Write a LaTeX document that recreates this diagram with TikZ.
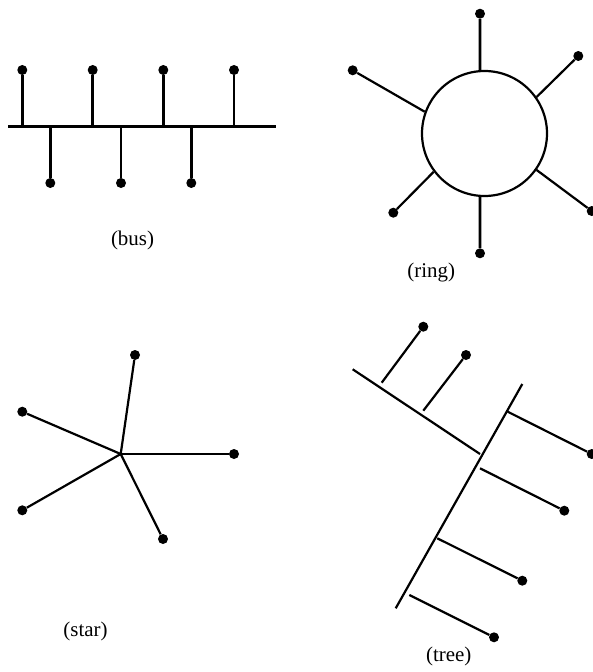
\documentclass[tikz,border=0pt]{standalone}
\usepackage{fontspec}
\setmainfont{Liberation Serif}
\tikzset{
  dot/.style={circle,fill=black,inner sep=0pt,minimum size=10bp},
  link/.style={line width=2.2bp},
  buslink/.style={line width=2.8bp},
  caption/.style={font=\fontsize{21}{25}\selectfont}
}

\begin{document}
\begin{tikzpicture}[yscale=-1,x=1bp,y=1bp]

  \useasboundingbox (0,0) rectangle (593,672);

  % ======================================================================
  % Bus: eine Leitung, Stationen abwechselnd oben und unten
  % ======================================================================
  \coordinate (busL) at (8.3,126.7);
  \coordinate (busR) at (276,126.7);
  \draw[buslink] (busL) -- (busR);

  \foreach \x [count=\i] in {22.3,92.7,163.3,234} {
    \node[dot] (busU\i) at (\x,70) {};
    \coordinate (busTU\i) at (\x,126.7);
    \draw[buslink] (busU\i) -- (busTU\i);
  }
  \foreach \x [count=\i] in {50.3,121,191.3} {
    \node[dot] (busD\i) at (\x,183) {};
    \coordinate (busTD\i) at (\x,126.7);
    \draw[buslink] (busTD\i) -- (busD\i);
  }

  \node[caption] (lblbus) at (132.5,240) {(bus)};

  % ======================================================================
  % Ring: Kreis mit sechs Stichleitungen
  % ======================================================================
  \node[circle,draw,line width=2.2bp,inner sep=0pt,minimum size=125bp] (ring) at (484.5,133.5) {};

  \node[dot] (ringN)  at (480,13.7) {};
  \node[dot] (ringNE) at (578.3,56) {};
  \node[dot] (ringW)  at (352.7,70.3) {};
  \node[dot] (ringSW) at (393.3,212.7) {};
  \node[dot] (ringS)  at (480,253.3) {};
  \node[dot] (ringSE) at (591.7,211) {};

  \draw[buslink] (ringN) -- (ring.94);
  \draw[link] (ringNE) -- (ring.35);
  \draw[link] (ringW) -- (ring.160.6);
  \draw[link] (ringSW) -- (ring.217.9);
  \draw[buslink] (ringS) -- (ring.266);
  \draw[link] (ringSE) -- (ring.325.8);

  \node[caption] (lblring) at (431.3,272) {(ring)};

  % ======================================================================
  % Stern: fuenf Stationen an einem Mittelpunkt
  % ======================================================================
  \coordinate (hub) at (120.7,454);

  \node[dot] (starN)  at (135,355) {};
  \node[dot] (starNW) at (22.3,411.7) {};
  \node[dot] (starE)  at (234,454) {};
  \node[dot] (starSW) at (22.3,510.3) {};
  \node[dot] (starS)  at (163,539) {};

  \draw[link] (hub) -- (starN);
  \draw[link] (hub) -- (starNW);
  \draw[buslink] (hub) -- (starE);
  \draw[link] (hub) -- (starSW);
  \draw[link] (hub) -- (starS);

  \node[caption] (lblstar) at (85.5,631) {(star)};

  % ======================================================================
  % Baum: Stamm, ein Ast nach links oben, Stichleitungen nach rechts unten
  % ======================================================================
  \coordinate (trunkTop) at (522.3,384);
  \coordinate (trunkBot) at (395.7,608.3);
  \draw[link] (trunkTop) -- (trunkBot);

  \coordinate (branchA) at (352.7,369.3);
  \coordinate (branchB) at (480,454);
  \draw[link] (branchA) -- (branchB);

  % --- Stichleitungen am Ast ---
  \coordinate (twigA1) at (381.7,382.7);
  \node[dot] (treeA1) at (423.3,326.7) {};
  \draw[link] (twigA1) -- (treeA1);

  \coordinate (twigA2) at (423.3,410.7);
  \node[dot] (treeA2) at (466,355) {};
  \draw[link] (twigA2) -- (treeA2);

  % --- Stichleitungen am Stamm ---
  \coordinate (twigB1) at (507.7,411.7);
  \node[dot] (treeB1) at (591.7,454) {};
  \draw[link] (twigB1) -- (treeB1);

  \coordinate (twigB2) at (480,468.3);
  \node[dot] (treeB2) at (564.3,510.7) {};
  \draw[link] (twigB2) -- (treeB2);

  \coordinate (twigB3) at (437.3,538.3);
  \node[dot] (treeB3) at (522.3,580.7) {};
  \draw[link] (twigB3) -- (treeB3);

  \coordinate (twigB4) at (409.3,595);
  \node[dot] (treeB4) at (494,637.3) {};
  \draw[link] (twigB4) -- (treeB4);

  \node[caption] (lbltree) at (448.8,656) {(tree)};

\end{tikzpicture}
\end{document}
